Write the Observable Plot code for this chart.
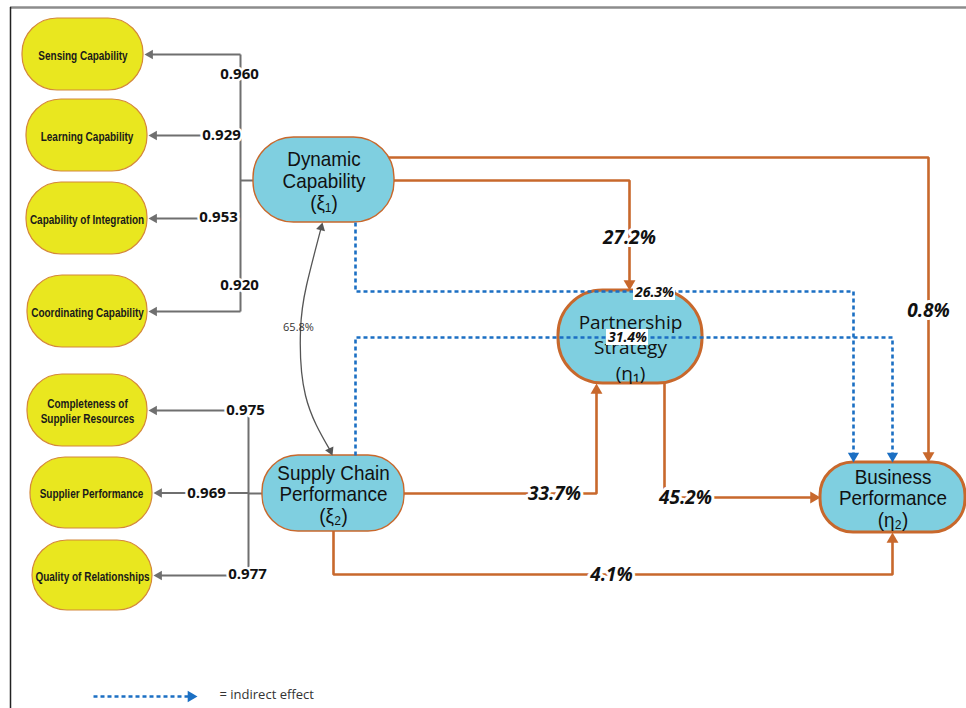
<!DOCTYPE html>
<html><head><meta charset="utf-8">
<script src="https://cdn.jsdelivr.net/npm/d3@7"></script>
<script src="https://cdn.jsdelivr.net/npm/@observablehq/plot@0.6"></script>
<style>html,body{margin:0;padding:0;background:#fff;overflow:hidden}</style>
</head><body><div id="chart"></div>
<script>
// ---------------- data ----------------
const indicators = ["Sensing Capability","Learning Capability","Capability of Integration","Coordinating Capability","Completeness of\nSupplier Resources","Supplier Performance","Quality of Relationships"];
const indicatorOf = ["DC","DC","DC","DC","SCP","SCP","SCP"];
const loadings = [0.960, 0.929, 0.953, 0.920, 0.975, 0.969, 0.977];
const constructIds = ["DC","SCP","PS","BP"];
const constructLabels = ["Dynamic\nCapability\n(ξ₁)","Supply Chain\nPerformance\n(ξ₂)","Partnership\nStrategy\n(η₁)","Business\nPerformance\n(η₂)"];
const directFrom = ["DC","DC","SCP","PS","SCP"];
const directTo = ["PS","BP","PS","BP","BP"];
const directEffects = [27.2, 0.8, 33.7, 45.2, 4.1];
const indirectFrom = ["DC","SCP"];
const indirectTo = ["BP","BP"];
const indirectEffects = [26.3, 31.4];
const correlation = 65.8;
const legendText = "= indirect effect";

// ---------------- layout ----------------
const ORANGE = "#c8682c", BLUE = "#1b6fc3", GRAY = "#6f6f6f";
const indicatorBox = [[22,143,18,90],[26,147,99,171],[26,147,182,254],[27,147,275,347],[27,147,374,446],[30,152,457,528],[32,152,540,610]];
const spine = {DC: {x: 240, stemY: 180, stemTo: 262}, SCP: {x: 248, stemY: 493, stemTo: 270}};
const loadingLabelPos = [[239,74],[221,135],[218,217],[239,285],[245,410],[206,493],[247,574]];
const box = {DC:[253,394,137,222], SCP:[262,404,455,531], PS:[558,702,290,383], BP:[820,965,462,532]};
const boxStrokeW = {DC:1.4, SCP:1.4, PS:3, BP:3};
const directRoutes = [
  [[323,180],[629,180],[629,290]],
  [[330,157],[928,157],[928,462]],
  [[333,493],[596,493],[596,383]],
  [[664,336],[664,497],[820,497]],
  [[333,493],[333,574],[892,574],[892,532]]
];
const directLabelPos = [[629,237],[928,310],[554,493],[685,497],[611,574]];
const indirectRoutes = [
  [[355,222],[355,291],[853,291],[853,462]],
  [[355,455],[355,337],[892,337],[892,462]]
];
const indirectLabelPos = [[654,292],[627,337]];
const corrCurve = [[322,222],[306,285],[300,330],[305,395],[332,455]];
const corrLabelPos = [298,327];
const legendRoute = [[93,696],[197,696]];
const legendTextPos = [219,694];

// ---------------- helpers ----------------
function head(tip, from, r, color) {
  const dx = tip[0]-from[0], dy = tip[1]-from[1], L = Math.hypot(dx, dy);
  const ux = dx/L, uy = dy/L;
  const off = 2*Math.sqrt(Math.PI*r*r/(3*Math.sqrt(3)));
  return {x: tip[0]-ux*off, y: tip[1]-uy*off, rotate: Math.atan2(ux, -uy)*180/Math.PI, color, r};
}
const heads = [];
function routeWithHead(route, r, color, id) {
  const n = route.length;
  const h = head(route[n-1], route[n-2], r, color);
  heads.push(h);
  return route.map((p, i) => ({id, x: i === n-1 ? h.x : p[0], y: i === n-1 ? h.y : p[1]}));
}

// gray loading lines
const grayData = [];
for (const id of ["DC","SCP"]) {
  const ys = indicatorBox.filter((b,i) => indicatorOf[i] === id).map(b => (b[2]+b[3])/2);
  [[spine[id].x, Math.min(...ys)], [spine[id].x, Math.max(...ys)]].forEach(p => grayData.push({id: id+"spine", x: p[0], y: p[1]}));
  [[spine[id].x, spine[id].stemY], [spine[id].stemTo, spine[id].stemY]].forEach(p => grayData.push({id: id+"stem", x: p[0], y: p[1]}));
}
indicatorBox.forEach((b, i) => {
  const cy = (b[2]+b[3])/2;
  grayData.push(...routeWithHead([[spine[indicatorOf[i]].x, cy],[b[1]+1, cy]], 3.6, GRAY, "load"+i));
});

const orangeData = directRoutes.flatMap((r, i) => routeWithHead(r, 4.4, ORANGE, "d"+i));
const blueData = indirectRoutes.flatMap((r, i) => routeWithHead(r, 4.2, BLUE, "i"+i));
const legendData = routeWithHead(legendRoute, 4.2, BLUE, "leg");

// correlation curve, double headed
const cn = corrCurve.length;
const hTop = head(corrCurve[0], corrCurve[1], 3.4, "#555");
const hBot = head(corrCurve[cn-1], corrCurve[cn-2], 3.4, "#555");
heads.push(hTop, hBot);
const corrData = corrCurve.map((p, i) => i === 0 ? {x: hTop.x, y: hTop.y} : i === cn-1 ? {x: hBot.x, y: hBot.y} : {x: p[0], y: p[1]});

const yellowRects = indicatorBox.map((b, i) => ({x1: b[0], x2: b[1], y1: b[2], y2: b[3], label: indicators[i], cx: (b[0]+b[1])/2, cy: (b[2]+b[3])/2}));
const constructRects = constructIds.map((id, i) => ({id, x1: box[id][0], x2: box[id][1], y1: box[id][2], y2: box[id][3], label: constructLabels[i], cx: (box[id][0]+box[id][1])/2, cy: (box[id][2]+box[id][3])/2}));

const fmt3 = d3.format(".3f");
const pct = v => d3.format(".1f")(v) + "%";
const loadingLabels = loadings.map((v, i) => ({x: loadingLabelPos[i][0], y: loadingLabelPos[i][1], text: fmt3(v)}));
const directLabels = directEffects.map((v, i) => ({x: directLabelPos[i][0], y: directLabelPos[i][1], text: pct(v)}));
const indirectLabels = indirectEffects.map((v, i) => ({x: indirectLabelPos[i][0], y: indirectLabelPos[i][1], text: pct(v)}));

const ARIAL = "'Liberation Sans',Arial,sans-serif";
const OPEN = "'Open Sans','Noto Sans',sans-serif";

const constructMarks = constructRects.map(c => Plot.rect([c], {x1: "x1", x2: "x2", y1: "y1", y2: "y2", rx: (c.y2-c.y1)/2 - 2, fill: "#7fcfe0", stroke: ORANGE, strokeWidth: boxStrokeW[c.id]}));

const chart = Plot.plot({
  width: 966, height: 708, margin: 0,
  x: {domain: [0, 966], range: [0, 966], axis: null},
  y: {domain: [0, 708], range: [0, 708], axis: null},
  style: {background: "white", overflow: "visible"},
  marks: [
    Plot.ruleY([7], {x1: 10, x2: 966, stroke: "#8c8c8c", strokeWidth: 2.5}),
    Plot.ruleX([10], {y1: 7, y2: 708, stroke: "#222", strokeWidth: 1.5}),
    Plot.line(grayData, {x: "x", y: "y", z: "id", stroke: GRAY, strokeWidth: 2, strokeLinecap: "butt", strokeLinejoin: "miter"}),
    Plot.line(orangeData, {x: "x", y: "y", z: "id", stroke: ORANGE, strokeWidth: 2.6, strokeLinecap: "butt", strokeLinejoin: "miter"}),
    Plot.line(corrData, {x: "x", y: "y", curve: "natural", stroke: "#555", strokeWidth: 1.3}),
    Plot.rect(yellowRects, {x1: "x1", x2: "x2", y1: "y1", y2: "y2", rx: 35, fill: "#e9e71f", stroke: "#d4883a", strokeWidth: 1.2}),
    ...constructMarks,
    Plot.text(yellowRects, {x: "cx", y: "cy", text: "label", fontFamily: ARIAL, fontWeight: "bold", fontSize: 12.5, lineHeight: 1.25, fill: "#1a1a1a"}),
    Plot.text(constructRects.filter(c => c.id !== "PS"), {x: "cx", y: d => d.cy + 1, text: "label", fontFamily: ARIAL, fontSize: 21, lineHeight: 1.03, fill: "#111"}),
    Plot.text(constructRects.filter(c => c.id === "PS"), {x: "cx", y: d => d.cy + 9, text: "label", fontFamily: OPEN, fontSize: 19, lineHeight: 1.35, fill: "#111"}),
    Plot.line(blueData, {x: "x", y: "y", z: "id", stroke: BLUE, strokeWidth: 2.6, strokeDasharray: "4,3", strokeLinecap: "butt", strokeLinejoin: "miter"}),
    Plot.line(legendData, {x: "x", y: "y", stroke: BLUE, strokeWidth: 2.6, strokeDasharray: "4,3", strokeLinecap: "butt"}),
    ...[[GRAY, 3.6], [ORANGE, 4.4], [BLUE, 4.2], ["#555", 3.4]].map(([c, r]) =>
      Plot.dot(heads.filter(h => h.color === c), {x: "x", y: "y", rotate: "rotate", symbol: "triangle", r, fill: c, stroke: "none"})),
    Plot.text(loadingLabels, {x: "x", y: "y", text: "text", fontFamily: OPEN, fontWeight: "bold", fontSize: 15, fill: "#111", stroke: "white", strokeWidth: 5, paintOrder: "stroke"}),
    Plot.text(directLabels, {x: "x", y: "y", text: "text", fontFamily: OPEN, fontWeight: "bold", fontStyle: "italic", fontSize: 19, fill: "#111", stroke: "white", strokeWidth: 6, paintOrder: "stroke"}),
    Plot.rect(indirectLabels, {x1: d => d.x - 21, x2: d => d.x + 21, y1: d => d.y - 8, y2: d => d.y + 8, fill: "white"}),
    Plot.text(indirectLabels, {x: "x", y: "y", text: "text", fontFamily: OPEN, fontWeight: "bold", fontStyle: "italic", fontSize: 14, fill: "#111"}),
    Plot.text([{x: corrLabelPos[0], y: corrLabelPos[1], text: pct(correlation)}], {x: "x", y: "y", text: "text", fontFamily: OPEN, fontSize: 11, fill: "#333"}),
    Plot.text([{x: legendTextPos[0], y: legendTextPos[1], text: legendText}], {x: "x", y: "y", text: "text", textAnchor: "start", fontFamily: OPEN, fontSize: 13, fill: "#333"})
  ]
});

// condense the box labels horizontally (the reference uses a narrow typeface)
function condense(names, k) {
  const set = new Set(names.map(s => s.replace(/\n/g, "")));
  d3.select(chart).selectAll("text").filter(function() { return set.has(this.textContent); }).each(function() {
    const el = d3.select(this);
    const x = +el.attr("x") || 0, y = +el.attr("y") || 0, t = el.attr("transform") || "";
    el.attr("transform", `${t} translate(${x},${y}) scale(${k},1) translate(${-x},${-y})`);
  });
}
condense(indicators, 0.8);
condense([constructLabels[0], constructLabels[1], constructLabels[3]], 0.9);

document.getElementById("chart").append(chart);
</script>
</body></html>
